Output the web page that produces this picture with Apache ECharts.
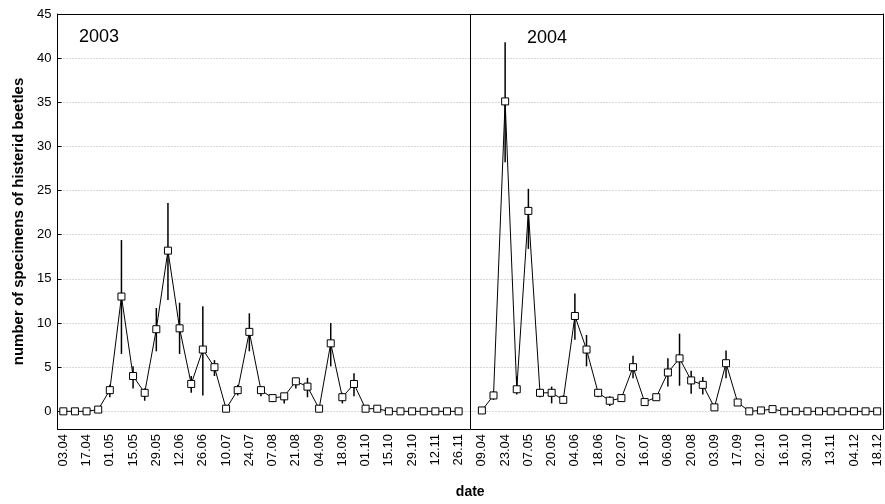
<!DOCTYPE html>
<html>
<head>
<meta charset="utf-8">
<script src="https://cdn.jsdelivr.net/npm/echarts@6/dist/echarts.min.js"></script>
<style>html,body{margin:0;padding:0;background:#fff}#c{width:885px;height:504px}</style>
</head>
<body>
<div id="c"></div>
<script>
// 2003 sampling dates (weekly; labels shown every other)
var dates2003 = ['03.04','10.04','17.04','24.04','01.05','08.05','15.05','22.05','29.05','05.06','12.06','19.06','26.06','03.07','10.07','17.07','24.07','31.07','07.08','14.08','21.08','28.08','04.09','11.09','18.09','25.09','01.10','08.10','15.10','22.10','29.10','05.11','12.11','19.11','26.11'];
var dates2004 = ['09.04','16.04','23.04','30.04','07.05','13.05','20.05','27.05','04.06','11.06','18.06','25.06','02.07','09.07','16.07','26.07','06.08','13.08','20.08','27.08','03.09','10.09','17.09','24.09','02.10','09.10','16.10','23.10','30.10','06.11','13.11','23.11','04.12','11.12','18.12'];

// mean number of specimens
var mean2003 = [0,0,0,0.2,2.4,13.0,4.0,2.1,9.3,18.2,9.4,3.1,7.0,5.0,0.3,2.4,9.0,2.4,1.5,1.7,3.4,2.8,0.3,7.7,1.6,3.1,0.3,0.3,0,0,0,0,0,0,0];
var mean2004 = [0.1,1.8,35.1,2.5,22.7,2.1,2.1,1.3,10.8,7.0,2.1,1.2,1.5,5.0,1.05,1.6,4.4,6.0,3.5,3.0,0.45,5.45,1.0,0,0.1,0.25,0,0,0,0,0,0,0,0,0];

// error bar limits (null = no visible bar)
var low2003  = [null,null,null,null,1.6,6.5,2.6,1.2,6.8,12.6,6.5,2.1,1.8,4.0,null,1.8,6.8,1.7,1.05,0.9,2.6,1.6,null,5.1,0.9,1.7,null,null,null,null,null,null,null,null,null];
var high2003 = [null,null,null,null,3.0,19.4,5.1,2.6,11.7,23.6,12.3,4.0,11.9,5.8,null,3.0,11.1,2.8,1.8,1.9,3.8,3.8,null,10.0,2.1,4.3,null,null,null,null,null,null,null,null,null];
var low2004  = [null,1.3,28.2,1.9,18.4,1.6,0.9,0.9,8.1,5.1,1.6,0.6,1.2,3.75,0.8,1.3,2.8,2.9,2.0,1.9,null,3.75,null,null,null,null,null,null,null,null,null,null,null,null,null];
var high2004 = [null,2.3,41.8,3.95,25.2,2.4,2.8,1.8,13.35,8.65,2.5,1.7,1.8,6.3,1.3,1.9,6.0,8.8,4.6,3.9,null,6.9,null,null,null,null,null,null,null,null,null,null,null,null,null];

var yTicks = [0,5,10,15,20,25,30,35,40,45];
var yearLabels = ['2003','2004'];

// combined axis: 2003 block, one empty gap slot, 2004 block
var cats = dates2003.concat(['']).concat(dates2004);
var meanAll = mean2003.concat([null]).concat(mean2004);
var lowAll = low2003.concat([null]).concat(low2004);
var highAll = high2003.concat([null]).concat(high2004);
var gapIndex = dates2003.length;

var errData = [];
for (var i = 0; i < cats.length; i++) {
  if (lowAll[i] != null && highAll[i] != null) errData.push([i, lowAll[i], highAll[i]]);
}

var FONT = 'Liberation Sans, Arial, sans-serif';
var chart = echarts.init(document.getElementById('c'));
chart.setOption({
  animation: false,
  backgroundColor: '#fff',
  grid: {left: 57.5, right: 2, top: 14, bottom: 72.5},
  xAxis: [{
    type: 'category', data: cats, boundaryGap: true, position: 'bottom',
    axisLine: {onZero: false, lineStyle: {color: '#000', width: 1}},
    axisTick: {inside: true, length: 4, interval: 1, alignWithLabel: true, lineStyle: {color: '#000'}},
    axisLabel: {interval: 1, rotate: 90, fontSize: 13, color: '#000', margin: 5, fontFamily: FONT},
    name: 'date', nameLocation: 'middle', nameGap: 56,
    nameTextStyle: {fontSize: 14, fontWeight: 'bold', color: '#000', fontFamily: FONT},
    splitLine: {show: false}
  }, {
    type: 'category', data: cats, boundaryGap: true, position: 'top',
    axisLine: {onZero: false, lineStyle: {color: '#000', width: 1}},
    axisTick: {inside: true, length: 4, interval: 1, alignWithLabel: true, lineStyle: {color: '#000'}},
    axisLabel: {show: false},
    splitLine: {show: false}
  }],
  yAxis: [{
    type: 'value', min: -2, max: 45, position: 'left',
    axisLine: {show: true, onZero: false, lineStyle: {color: '#000', width: 1}},
    axisTick: {show: true, inside: true, length: 4, customValues: yTicks, lineStyle: {color: '#000'}},
    axisLabel: {customValues: yTicks, fontSize: 13, color: '#000', margin: 6, fontFamily: FONT},
    splitLine: {show: true, lineStyle: {color: '#b0b0b0', type: [1, 2], width: 1}},
    name: 'number of specimens of histerid beetles', nameLocation: 'middle', nameGap: 31,
    nameTextStyle: {fontSize: 15, fontWeight: 'bold', color: '#000', fontFamily: FONT}
  }, {
    type: 'value', min: -2, max: 45, position: 'right',
    axisLine: {show: true, onZero: false, lineStyle: {color: '#000', width: 1}},
    axisTick: {show: false}, axisLabel: {show: false}, splitLine: {show: false}
  }],
  graphic: [
    {type: 'text', left: 79, top: 28, style: {text: yearLabels[0], fontSize: 18, fill: '#000', fontFamily: FONT}},
    {type: 'text', left: 527, top: 29, style: {text: yearLabels[1], fontSize: 18, fill: '#000', fontFamily: FONT}}
  ],
  series: [{
    type: 'custom', xAxisIndex: 0, yAxisIndex: 0, data: errData, z: 2,
    renderItem: function (params, api) {
      var p1 = api.coord([api.value(0), api.value(1)]);
      var p2 = api.coord([api.value(0), api.value(2)]);
      return {type: 'line', shape: {x1: p1[0], y1: p1[1], x2: p2[0], y2: p2[1]},
              style: {stroke: '#000', lineWidth: 1.5}};
    },
    markLine: {
      silent: true, symbol: 'none', label: {show: false},
      lineStyle: {color: '#000', type: 'solid', width: 1},
      data: [{xAxis: gapIndex}]
    }
  }, {
    type: 'line', xAxisIndex: 0, yAxisIndex: 0, data: meanAll, connectNulls: false, z: 3,
    symbol: 'rect', symbolSize: 7, showAllSymbol: true,
    lineStyle: {color: '#000', width: 1},
    itemStyle: {color: '#fff', borderColor: '#000', borderWidth: 1}
  }]
});
</script>
</body>
</html>
